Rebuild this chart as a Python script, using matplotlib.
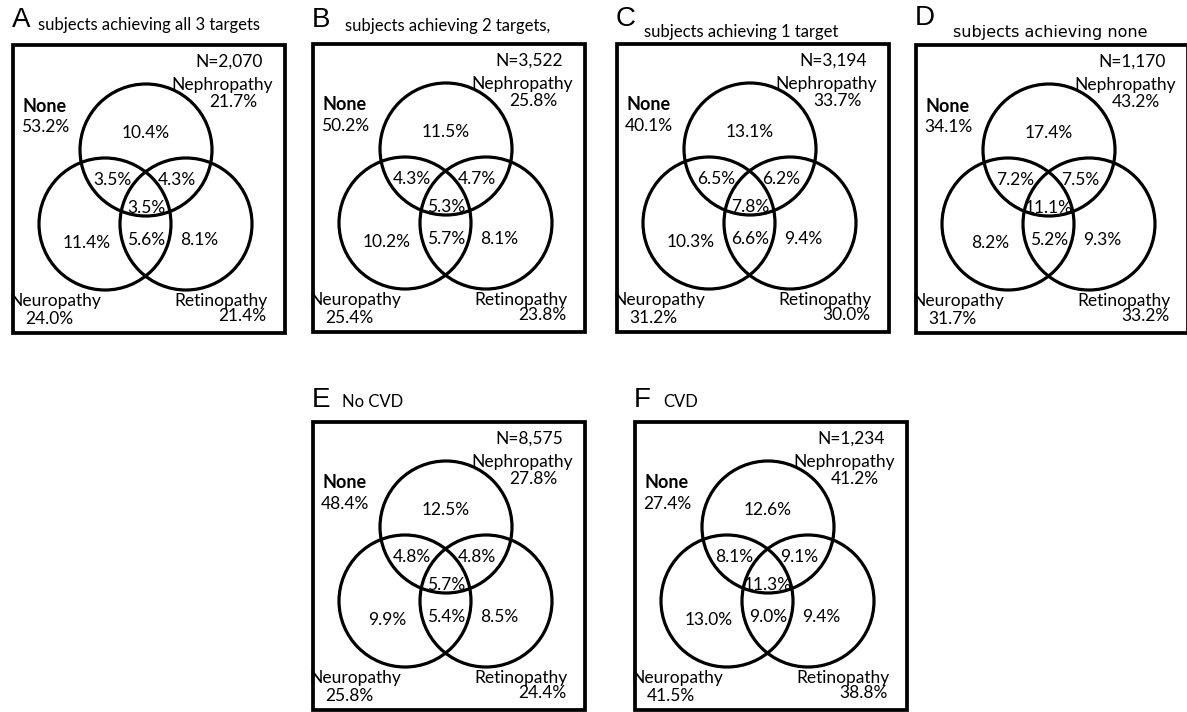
import matplotlib
matplotlib.use("Agg")
import matplotlib.pyplot as plt
from matplotlib.patches import Circle, Rectangle

# ---- data -------------------------------------------------------------
panel_letters = ["A", "B", "C", "D", "E", "F"]
panel_titles = [
    "subjects achieving all 3 targets",
    "subjects achieving 2 targets,",
    "subjects achieving 1 target",
    "subjects achieving none",
    "No CVD",
    "CVD",
]
n_subjects = ["2,070", "3,522", "3,194", "1,170", "8,575", "1,234"]

none_pct = [53.2, 50.2, 40.1, 34.1, 48.4, 27.4]
nephropathy_pct = [21.7, 25.8, 33.7, 43.2, 27.8, 41.2]
neuropathy_pct = [24.0, 25.4, 31.2, 31.7, 25.8, 41.5]
retinopathy_pct = [21.4, 23.8, 30.0, 33.2, 24.4, 38.8]

nephro_only = [10.4, 11.5, 13.1, 17.4, 12.5, 12.6]
nephro_neuro = [3.5, 4.3, 6.5, 7.2, 4.8, 8.1]
nephro_retino = [4.3, 4.7, 6.2, 7.5, 4.8, 9.1]
all_three = [3.5, 5.3, 7.8, 11.1, 5.7, 11.3]
neuro_only = [11.4, 10.2, 10.3, 8.2, 9.9, 13.0]
neuro_retino = [5.6, 5.7, 6.6, 5.2, 5.4, 9.0]
retino_only = [8.1, 8.1, 9.4, 9.3, 8.5, 9.4]

# ---- layout (pixel units, origin top-left) ----------------------------
W, H = 1187, 712
box_w, box_h = 272, 288
box_origin = [(13, 45), (313, 44), (617, 44), (916, 45), (313, 422), (635, 422)]
letter_dy = [-25, -24, -25, -27, -22, -22]
title_dx = [25, 32, 27, 37, 29, 28]
title_dy = [-20, -18, -12, -13, -20, -20]
r = 66
circle_centres = {"nephro": (133, 105), "neuro": (92, 179), "retino": (173, 179)}

body_font = "Lato"
fs = 12.5


def pct(v):
    return f"{v:.1f}%"


fig = plt.figure(figsize=(W / 100, H / 100), dpi=100)
ax = fig.add_axes([0, 0, 1, 1])
ax.set_xlim(0, W)
ax.set_ylim(H, 0)
ax.axis("off")

for i, letter in enumerate(panel_letters):
    bx, by = box_origin[i]

    def T(x, y, s, **kw):
        kw.setdefault("fontsize", fs)
        kw.setdefault("family", body_font)
        kw.setdefault("ha", "center")
        kw.setdefault("va", "center")
        ax.text(bx + x, by + y, s, **kw)

    ax.add_patch(Rectangle((bx, by), box_w, box_h, fill=False,
                           lw=2.7, ec="black", joinstyle="miter"))
    for cx, cy in circle_centres.values():
        ax.add_patch(Circle((bx + cx, by + cy), r, fill=False,
                            lw=2.3, ec="black"))

    # panel letter and heading
    ax.text(bx - 1, by + letter_dy[i], letter, fontsize=20,
            family="Liberation Sans", ha="left", va="center")
    if letter == "D":
        ax.text(bx + title_dx[i], by + title_dy[i], panel_titles[i],
                fontsize=11.5, family="DejaVu Sans", ha="left", va="center")
    else:
        ax.text(bx + title_dx[i], by + title_dy[i], panel_titles[i],
                fontsize=12, family=body_font, ha="left", va="center")

    T(216, 17, f"N={n_subjects[i]}")
    T(209, 40, "Nephropathy")
    T(220, 57, pct(nephropathy_pct[i]))
    T(32, 61, "None", fontweight="bold", fontsize=13)
    T(32, 82, pct(none_pct[i]))
    T(42, 256, "Neuropathy")
    T(36, 274, pct(neuropathy_pct[i]))
    T(208, 256, "Retinopathy")
    T(229, 271, pct(retinopathy_pct[i]))

    T(133, 88, pct(nephro_only[i]))
    T(99, 135, pct(nephro_neuro[i]))
    T(164, 135, pct(nephro_retino[i]))
    T(133, 163, pct(all_three[i]))
    T(74, 198, pct(neuro_only[i]))
    T(133, 195, pct(neuro_retino[i]))
    T(186, 195, pct(retino_only[i]))

fig.savefig("out.png", dpi=100, facecolor="white")
